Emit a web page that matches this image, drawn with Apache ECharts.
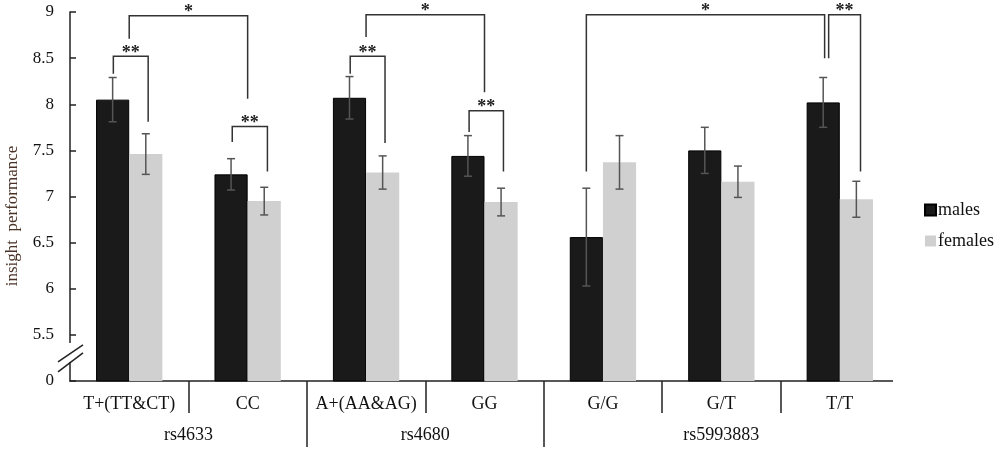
<!DOCTYPE html>
<html>
<head>
<meta charset="utf-8">
<script src="https://cdn.jsdelivr.net/npm/echarts@6/dist/echarts.min.js"></script>
<style>
  html, body { margin: 0; padding: 0; background: #fff; }
  #main { width: 1000px; height: 450px; }
</style>
</head>
<body>
<div id="main"></div>
<script>
// 数据
var categories = ['T+(TT&CT)', 'CC', 'A+(AA&AG)', 'GG', 'G/G', 'G/T', 'T/T'];
var maleMean = [8.05, 7.24, 8.07, 7.44, 6.56, 7.50, 8.02];
var maleErr = [0.24, 0.17, 0.23, 0.22, 0.53, 0.25, 0.27];
var femaleMean = [7.46, 6.95, 7.26, 6.94, 7.37, 7.16, 6.97];
var femaleErr = [0.22, 0.15, 0.18, 0.15, 0.29, 0.17, 0.195];
var yTicks = [5, 5.5, 6, 6.5, 7, 7.5, 8, 8.5, 9];

// 基因位点分组: 首尾类别序号
var groupNames = ['rs4633', 'rs4680', 'rs5993883'];
var groupFirst = [0, 2, 4];
var groupLast = [1, 3, 6];

// 显著性标记: [leftCat, leftSide, leftY, rightCat, rightSide, rightY, topY]
var brackets = [
	[0, -0.134, 8.33, 0, 0.16, 7.81, 8.52],
	[0, 0, 8.71, 1, 0, 8.06, 8.96],
	[1, -0.13, 7.59, 1, 0.167, 7.27, 7.76],
	[2, -0.134, 8.33, 2, 0.16, 7.58, 8.52],
	[2, 0, 8.73, 3, 0, 8.13, 8.97],
	[3, -0.13, 7.70, 3, 0.16, 7.27, 7.93],
	[4, -0.14, 7.27, 6, -0.128, 8.50, 8.97],
	[6, -0.094, 8.50, 6, 0.175, 7.27, 8.97]
];
var bracketLabels = ['**', '*', '**', '**', '*', '**', '*', '**'];

var FONT = 'Liberation Serif';
var BAR_W = 0.28; // 柱宽占类别宽度的比例

var errData = [];
for (var i = 0; i < categories.length; i++) {
	errData.push([i, -1, maleMean[i], maleErr[i]]);
	errData.push([i, 1, femaleMean[i], femaleErr[i]]);
}
var groupData = [];
for (var g = 0; g < groupNames.length; g++) {
	groupData.push([groupFirst[g], groupLast[g]]);
}

function renderErr(params, api) {
	var cat = api.value(0), side = api.value(1);
	var m = api.value(2), e = api.value(3);
	var band = api.size([1, 0])[0];
	var x = api.coord([cat, m])[0] + side * band * BAR_W / 2;
	var yTop = api.coord([cat, m + e])[1];
	var yBot = api.coord([cat, m - e])[1];
	var st = { stroke: '#555', lineWidth: 1.5 };
	return {
		type: 'group',
		children: [
			{ type: 'line', shape: { x1: x, y1: yTop, x2: x, y2: yBot }, style: st },
			{ type: 'line', shape: { x1: x - 4, y1: yTop, x2: x + 4, y2: yTop }, style: st },
			{ type: 'line', shape: { x1: x - 4, y1: yBot, x2: x + 4, y2: yBot }, style: st }
		]
	};
}

function renderBracket(params, api) {
	var band = api.size([1, 0])[0];
	var p1 = api.coord([api.value(0), api.value(2)]);
	var p2 = api.coord([api.value(3), api.value(5)]);
	var x1 = p1[0] + api.value(1) * band;
	var x2 = p2[0] + api.value(4) * band;
	var yt = api.coord([api.value(0), api.value(6)])[1];
	return {
		type: 'group',
		children: [
			{
				type: 'polyline',
				shape: { points: [[x1, p1[1]], [x1, yt], [x2, yt], [x2, p2[1]]] },
				style: { stroke: '#333', lineWidth: 1.5, fill: null }
			},
			{
				type: 'text',
				x: (x1 + x2) / 2,
				y: yt + 6,
				style: {
					text: bracketLabels[params.dataIndex],
					font: 'bold 18px "' + FONT + '"',
					fill: '#222',
					align: 'center',
					verticalAlign: 'bottom'
				}
			}
		]
	};
}

function renderGroup(params, api) {
	var a = api.coord([api.value(0), 5]);
	var b = api.coord([api.value(1), 5]);
	return {
		type: 'text',
		x: (a[0] + b[0]) / 2,
		y: a[1] + 54,
		style: {
			text: groupNames[params.dataIndex],
			font: '18px "' + FONT + '"',
			fill: '#111',
			align: 'center',
			verticalAlign: 'middle'
		}
	};
}

var myChart = echarts.init(document.getElementById('main'));
var option = {
	animation: false,
	backgroundColor: '#fff',
	grid: { left: 70, right: 101, top: 12, bottom: 69 },
	legend: {
		data: ['males', 'females'],
		orient: 'vertical',
		left: 924,
		top: 201,
		padding: 0,
		icon: 'rect',
		itemWidth: 11,
		itemHeight: 11,
		itemGap: 13,
		textStyle: { fontFamily: FONT, fontSize: 18, color: '#111', padding: [0, 0, 0, -3] }
	},
	xAxis: [{
		type: 'category',
		data: categories,
		axisLine: { lineStyle: { color: '#222', width: 1.5 } },
		axisTick: {
			show: true,
			length: 32,
			lineStyle: { color: '#222', width: 1.5 },
			interval: function (idx) { return idx > 0 && idx < categories.length; }
		},
		axisLabel: {
			margin: 14,
			fontFamily: FONT,
			fontSize: 18,
			color: '#111',
			interval: 0
		}
	}, {
		type: 'category',
		data: categories,
		position: 'bottom',
		axisLine: { show: false },
		axisLabel: { show: false },
		axisTick: {
			show: true,
			length: 66,
			lineStyle: { color: '#222', width: 1.5 },
			interval: function (idx) { return idx === 2 || idx === 4; }
		}
	}],
	yAxis: {
		type: 'value',
		min: 5,
		max: 9,
		interval: 0.5,
		splitLine: { show: false },
		axisLine: { show: true, lineStyle: { color: '#222', width: 1.5 } },
		axisTick: { show: true, inside: true, length: 6, lineStyle: { color: '#222', width: 1.5 } },
		axisLabel: {
			fontFamily: FONT,
			fontSize: 17,
			color: '#111',
			margin: 16,
			formatter: function (v) {
				if (v === yTicks[0]) return '0';
				return String(v);
			}
		}
	},
	series: [{
		name: 'males',
		type: 'bar',
		data: maleMean,
		barWidth: (BAR_W * 100) + '%',
		barGap: '0%',
		itemStyle: { color: '#1a1a1a', borderColor: '#000', borderWidth: 1 }
	}, {
		name: 'females',
		type: 'bar',
		data: femaleMean,
		barWidth: (BAR_W * 100) + '%',
		itemStyle: { color: '#d0d0d0' }
	}, {
		type: 'custom',
		renderItem: renderErr,
		data: errData,
		clip: false,
		z: 5
	}, {
		type: 'custom',
		renderItem: renderBracket,
		data: brackets,
		clip: false,
		z: 5
	}, {
		type: 'custom',
		renderItem: renderGroup,
		data: groupData,
		clip: false
	}]
};
myChart.setOption(option);

// 断轴标记 + 纵轴标题
var yA = myChart.convertToPixel({ yAxisIndex: 0 }, 5.5);
var yB = myChart.convertToPixel({ yAxisIndex: 0 }, 5);
var xEnd = myChart.convertToPixel({ xAxisIndex: 0 }, categories[categories.length - 1]);
var band = xEnd - myChart.convertToPixel({ xAxisIndex: 0 }, categories[categories.length - 2]);
var ax = 70;
var mid = (yA + yB) / 2;
myChart.setOption({
	graphic: [
		{ type: 'text', x: 13, y: 216, rotation: Math.PI / 2,
		  style: { text: 'insight  performance', font: '17px "' + FONT + '"', fill: '#4a3326',
		           align: 'center', verticalAlign: 'middle' } },
		{ type: 'rect', shape: { x: ax - 3, y: mid - 15, width: 6, height: 19 }, style: { fill: '#fff' }, z: 100 },
		{ type: 'line', shape: { x1: ax - 12, y1: mid + 4, x2: ax + 13, y2: mid - 13 }, style: { stroke: '#222', lineWidth: 1.5 }, z: 101 },
		{ type: 'line', shape: { x1: ax - 12, y1: mid + 14, x2: ax + 13, y2: mid - 5 }, style: { stroke: '#222', lineWidth: 1.5 }, z: 101 },
		// 去掉轴末端的刻度
		{ type: 'rect', shape: { x: xEnd + band / 2 - 6, y: yB - 3, width: 14, height: 80 }, style: { fill: '#fff' }, z: 100 }
	]
});
</script>
</body>
</html>
